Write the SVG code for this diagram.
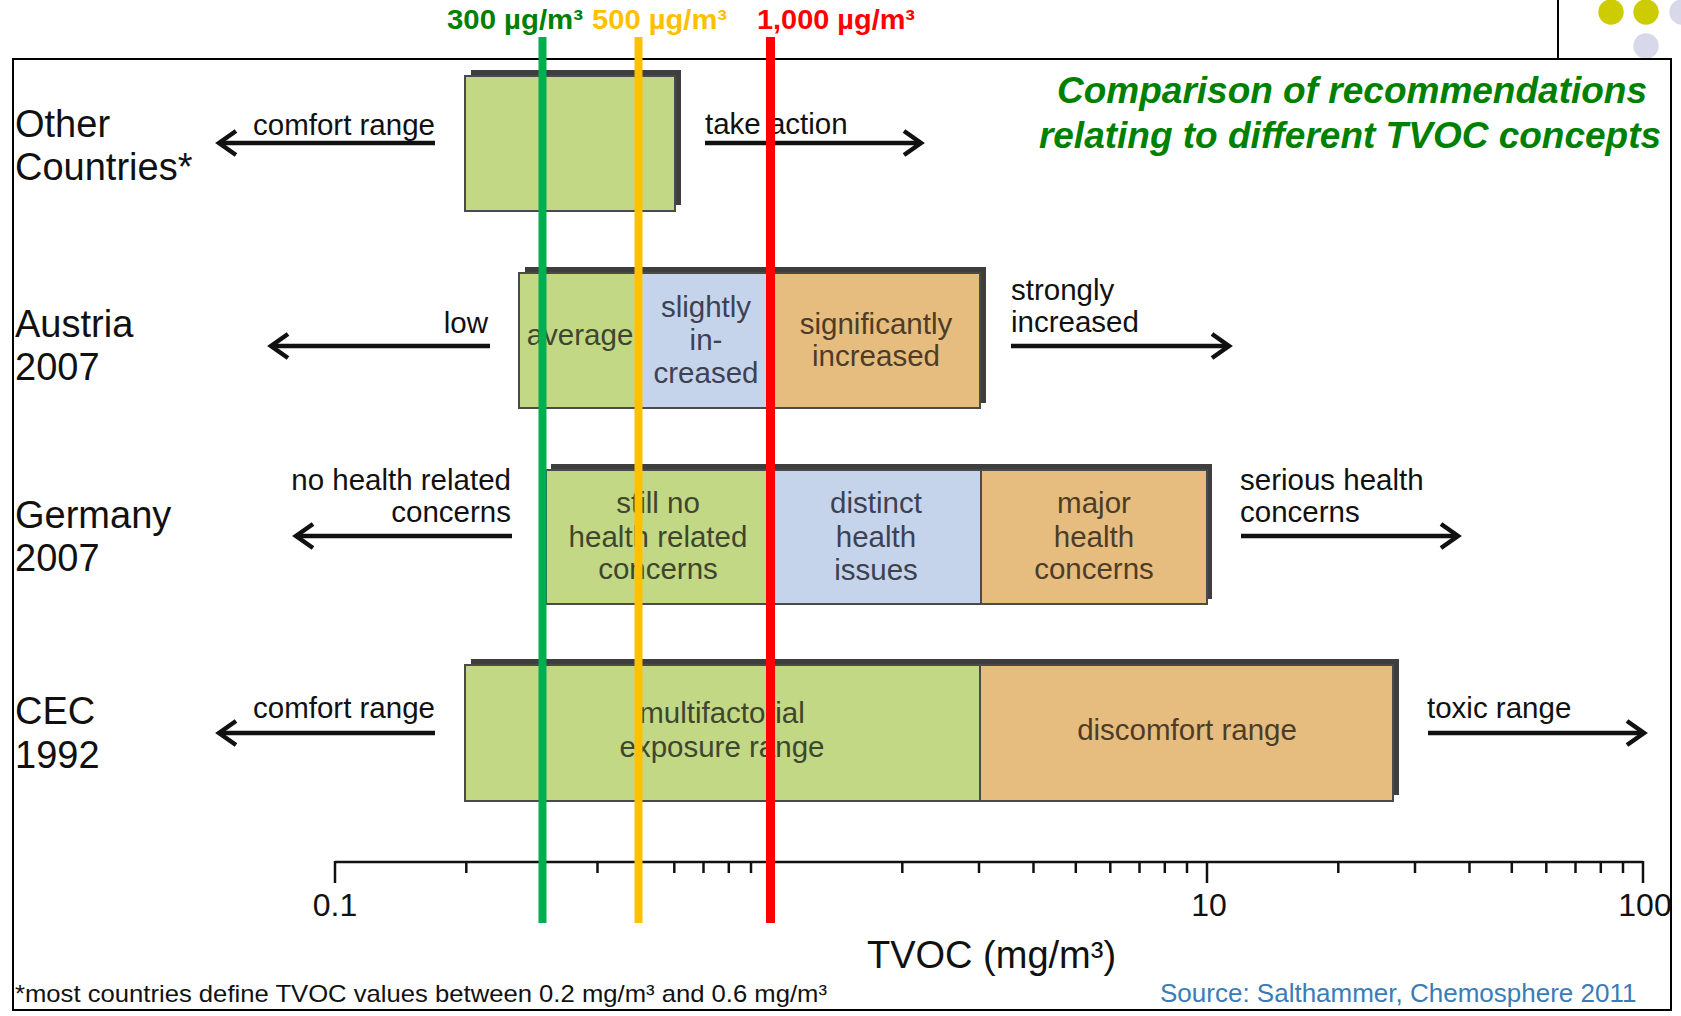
<svg xmlns="http://www.w3.org/2000/svg" width="1681" height="1016" viewBox="0 0 1681 1016">
<style>
.lbl{font-family:"Liberation Sans",Arial,sans-serif;font-size:38px;fill:#111}
.t{font-family:"Liberation Sans",Arial,sans-serif;font-size:29.5px;fill:#111}
.bt{font-family:"Liberation Sans",Arial,sans-serif;font-size:29.5px;text-anchor:middle}
.g{fill:#C3D884}.b{fill:#C6D4EB}.o{fill:#E6BD7F}
.gt{fill:#3E4630}.btc{fill:#3C4252}.ot{fill:#4C3C28}
.sh{fill:#3E3E3E}
.bd{fill:none;stroke:#4A4A4A;stroke-width:2}
.dv{stroke:#4A4A4A;stroke-width:2}
.arr{stroke:#111;stroke-width:4.5;fill:none;marker-end:url(#ah)}
.top{font-family:"Liberation Sans",Arial,sans-serif;font-size:27px;font-weight:bold}
.tick{stroke:#111;stroke-width:2.5}
.num{font-family:"Liberation Sans",Arial,sans-serif;font-size:32px;fill:#111;text-anchor:middle}
</style>
<defs>
<marker id="ah" viewBox="0 0 26 30" refX="22" refY="15" markerWidth="26" markerHeight="30" markerUnits="userSpaceOnUse" orient="auto">
<path d="M5,3 L22,15 L5,27" fill="none" stroke="#111" stroke-width="4.5"/>
</marker>
</defs>
<rect width="1681" height="1016" fill="#fff"/>

<g id="decoration">
<line x1="1558" y1="0" x2="1558" y2="59" stroke="#000" stroke-width="2"/>
<circle cx="1611" cy="12" r="12.7" fill="#CCCC00"/>
<circle cx="1646" cy="12" r="12.7" fill="#CCCC00"/>
<circle cx="1682" cy="12" r="12.7" fill="#D8D8EB"/>
<circle cx="1646" cy="46" r="12.7" fill="#D8D8EB"/>
</g>

<rect id="frame" x="13" y="59" width="1658" height="951" fill="none" stroke="#000" stroke-width="2"/>

<g id="title" font-family="'Liberation Sans',Arial,sans-serif" font-size="37" font-weight="bold" font-style="italic" fill="#008000" text-anchor="middle">
<text x="1352" y="103">Comparison of recommendations</text>
<text x="1350" y="148">relating to different TVOC concepts</text>
</g>

<g id="row-other">
<text class="lbl" x="15" y="137">Other</text>
<text class="lbl" x="15" y="180">Countries*</text>
<rect class="sh" x="471" y="70" width="210" height="135"/>
<rect class="g" x="465" y="76" width="210" height="135"/>
<rect class="bd" x="465" y="76" width="210" height="135"/>
</g>

<g id="row-austria">
<text class="lbl" x="15" y="337">Austria</text>
<text class="lbl" x="15" y="380">2007</text>
<rect class="sh" x="525" y="267" width="461" height="136"/>
<rect class="g" x="519" y="273" width="121" height="135"/>
<rect class="b" x="640" y="273" width="132" height="135"/>
<rect class="o" x="772" y="273" width="208" height="135"/>
<line class="dv" x1="640" y1="273" x2="640" y2="408"/>
<line class="dv" x1="772" y1="273" x2="772" y2="408"/>
<rect class="bd" x="519" y="273" width="461" height="135"/>
<text class="bt gt" x="580" y="345">average</text>
<text class="bt btc" x="706" y="317">slightly</text>
<text class="bt btc" x="706" y="350">in-</text>
<text class="bt btc" x="706" y="383">creased</text>
<text class="bt ot" x="876" y="334">significantly</text>
<text class="bt ot" x="876" y="366">increased</text>
</g>

<g id="row-germany">
<text class="lbl" x="15" y="528">Germany</text>
<text class="lbl" x="15" y="571">2007</text>
<rect class="sh" x="551" y="464" width="661" height="135"/>
<rect class="g" x="546" y="470" width="225" height="134"/>
<rect class="b" x="771" y="470" width="210" height="134"/>
<rect class="o" x="981" y="470" width="226" height="134"/>
<line class="dv" x1="771" y1="470" x2="771" y2="604"/>
<line class="dv" x1="981" y1="470" x2="981" y2="604"/>
<rect class="bd" x="546" y="470" width="661" height="134"/>
<text class="bt gt" x="658" y="513">still no</text>
<text class="bt gt" x="658" y="547">health related</text>
<text class="bt gt" x="658" y="579">concerns</text>
<text class="bt btc" x="876" y="513">distinct</text>
<text class="bt btc" x="876" y="547">health</text>
<text class="bt btc" x="876" y="580">issues</text>
<text class="bt ot" x="1094" y="513">major</text>
<text class="bt ot" x="1094" y="547">health</text>
<text class="bt ot" x="1094" y="579">concerns</text>
</g>

<g id="row-cec">
<text class="lbl" x="15" y="724">CEC</text>
<text class="lbl" x="15" y="768">1992</text>
<rect class="sh" x="471" y="659" width="928" height="136"/>
<rect class="g" x="465" y="665" width="515" height="136"/>
<rect class="o" x="980" y="665" width="413" height="136"/>
<line class="dv" x1="980" y1="665" x2="980" y2="801"/>
<rect class="bd" x="465" y="665" width="928" height="136"/>
<text class="bt gt" x="722" y="723">multifactorial</text>
<text class="bt gt" x="722" y="757">exposure range</text>
<text class="bt ot" x="1187" y="740">discomfort range</text>
</g>

<g id="arrow-labels">
<text class="t" x="435" y="135" text-anchor="end">comfort range</text>
<text class="t" x="705" y="134">take action</text>
<text class="t" x="488" y="333" text-anchor="end">low</text>
<text class="t" x="1011" y="300">strongly</text>
<text class="t" x="1011" y="332">increased</text>
<text class="t" x="511" y="490" text-anchor="end">no health related</text>
<text class="t" x="511" y="522" text-anchor="end">concerns</text>
<text class="t" x="1240" y="490">serious health</text>
<text class="t" x="1240" y="522">concerns</text>
<text class="t" x="435" y="718" text-anchor="end">comfort range</text>
<text class="t" x="1427" y="718">toxic range</text>
</g>

<g id="connectors">
<line class="arr" x1="435" y1="143" x2="219" y2="143"/>
<line class="arr" x1="705" y1="143" x2="921" y2="143"/>
<line class="arr" x1="490" y1="346" x2="271" y2="346"/>
<line class="arr" x1="1011" y1="346" x2="1229" y2="346"/>
<line class="arr" x1="512" y1="536" x2="296" y2="536"/>
<line class="arr" x1="1241" y1="536" x2="1458" y2="536"/>
<line class="arr" x1="435" y1="733" x2="219" y2="733"/>
<line class="arr" x1="1428" y1="733" x2="1644" y2="733"/>
</g>

<g id="axis">
<line x1="335" y1="862" x2="1643" y2="862" stroke="#111" stroke-width="2.5"/>
<g class="tick">
<line x1="335" y1="861" x2="335" y2="883"/>
<line x1="771" y1="861" x2="771" y2="883"/>
<line x1="1207" y1="861" x2="1207" y2="883"/>
<line x1="1643" y1="861" x2="1643" y2="883"/>
<line x1="466.3" y1="861" x2="466.3" y2="873"/>
<line x1="543" y1="861" x2="543" y2="873"/>
<line x1="597.5" y1="861" x2="597.5" y2="873"/>
<line x1="639.8" y1="861" x2="639.8" y2="873"/>
<line x1="674.3" y1="861" x2="674.3" y2="873"/>
<line x1="703.5" y1="861" x2="703.5" y2="873"/>
<line x1="728.8" y1="861" x2="728.8" y2="873"/>
<line x1="751" y1="861" x2="751" y2="873"/>
<line x1="902.3" y1="861" x2="902.3" y2="873"/>
<line x1="979" y1="861" x2="979" y2="873"/>
<line x1="1033.5" y1="861" x2="1033.5" y2="873"/>
<line x1="1075.8" y1="861" x2="1075.8" y2="873"/>
<line x1="1110.3" y1="861" x2="1110.3" y2="873"/>
<line x1="1139.5" y1="861" x2="1139.5" y2="873"/>
<line x1="1164.8" y1="861" x2="1164.8" y2="873"/>
<line x1="1187" y1="861" x2="1187" y2="873"/>
<line x1="1338.3" y1="861" x2="1338.3" y2="873"/>
<line x1="1415" y1="861" x2="1415" y2="873"/>
<line x1="1469.5" y1="861" x2="1469.5" y2="873"/>
<line x1="1511.8" y1="861" x2="1511.8" y2="873"/>
<line x1="1546.3" y1="861" x2="1546.3" y2="873"/>
<line x1="1575.5" y1="861" x2="1575.5" y2="873"/>
<line x1="1600.8" y1="861" x2="1600.8" y2="873"/>
<line x1="1623" y1="861" x2="1623" y2="873"/>
</g>
<text class="num" x="335" y="916">0.1</text>
<text class="num" x="1209" y="916">10</text>
<text class="num" x="1645" y="916">100</text>
<text x="867" y="968" font-family="'Liberation Sans',Arial,sans-serif" font-size="38" fill="#111">TVOC (mg/m³)</text>
</g>

<text id="footnote" x="15" y="1002" font-family="'Liberation Sans',Arial,sans-serif" font-size="24" fill="#111" textLength="812" lengthAdjust="spacingAndGlyphs">*most countries define TVOC values between 0.2 mg/m³ and 0.6 mg/m³</text>
<text id="source" x="1160" y="1002" font-family="'Liberation Sans',Arial,sans-serif" font-size="26" fill="#3A7CB8">Source: Salthammer, Chemosphere 2011</text>

<g id="thresholds">
<line x1="542.5" y1="37" x2="542.5" y2="923" stroke="#00B050" stroke-width="8"/>
<line x1="638.5" y1="37" x2="638.5" y2="923" stroke="#FFC000" stroke-width="8"/>
<line x1="770.5" y1="37" x2="770.5" y2="923" stroke="#FF0000" stroke-width="9"/>
<text class="top" x="447" y="29" fill="#008000" textLength="136" lengthAdjust="spacingAndGlyphs">300 µg/m³</text>
<text class="top" x="592" y="29" fill="#FFC000" textLength="135" lengthAdjust="spacingAndGlyphs">500 µg/m³</text>
<text class="top" x="757" y="29" fill="#FF0000" textLength="158" lengthAdjust="spacingAndGlyphs">1,000 µg/m³</text>
</g>
</svg>
